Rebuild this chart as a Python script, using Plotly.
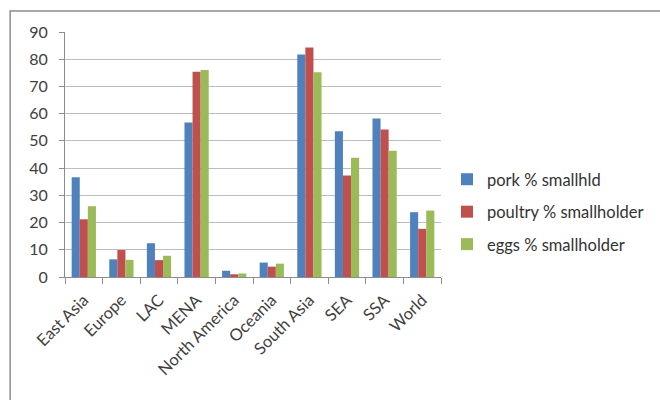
import plotly.graph_objects as go

categories = ["East Asia", "Europe", "LAC", "MENA", "North America", "Oceania",
              "South Asia", "SEA", "SSA", "World"]
pork = [36.6, 6.5, 12.4, 56.8, 2.3, 5.3, 81.7, 53.5, 58.2, 23.8]
poultry = [21.2, 9.9, 6.2, 75.4, 1.0, 3.8, 84.3, 37.3, 54.2, 17.7]
eggs = [26.0, 6.3, 7.8, 76.0, 1.3, 4.9, 75.2, 43.8, 46.4, 24.4]
series_names = ["pork % smallhld", "poultry % smallholder", "eggs % smallholder"]
colors = ["#4F81BD", "#C0504D", "#9BBB59"]

fig = go.Figure()
for i, (name, vals) in enumerate(zip(series_names, [pork, poultry, eggs])):
    fig.add_trace(go.Bar(x=categories, y=vals, name=name, legendgroup=f"g{i}",
                         marker=dict(color=colors[i], line=dict(width=0))))

L, R, T, B = 65, 218, 32, 123
W, H = 660, 400
pw, ph = W - L - R, H - T - B

def px_x(p):
    return (p - L) / pw

def px_y(p):
    return (H - B - p) / ph

fig.update_layout(
    width=W, height=H,
    margin=dict(l=L, r=R, t=T, b=B, pad=0),
    paper_bgcolor="white", plot_bgcolor="white",
    barmode="group", bargap=0.355, bargroupgap=0,
    font=dict(family="Lato, Carlito, Arial, sans-serif", size=16, color="#404040"),
    showlegend=True,
    legend=dict(x=px_x(447), y=px_y(162), xanchor="left", yanchor="top",
                font=dict(size=16.5, color="#333333"), tracegroupgap=8,
                bgcolor="rgba(0,0,0,0)", itemwidth=30),
    xaxis=dict(tickangle=-45, showline=True, linecolor="#8c8c8c", linewidth=1,
               ticks="outside", tickson="boundaries", ticklen=6, tickcolor="#8c8c8c",
               ticklabelstandoff=6,
               showgrid=False, tickfont=dict(size=16.5, color="#404040")),
    yaxis=dict(range=[0, 90], dtick=10, showline=True, linecolor="#8c8c8c", linewidth=1,
               ticks="outside", ticklen=5, tickcolor="#8c8c8c", ticklabelstandoff=8,
               gridcolor="#bdbdbd", gridwidth=1, zeroline=False,
               tickfont=dict(size=16, color="#404040")),
    shapes=[dict(type="rect", xref="paper", yref="paper",
                 x0=px_x(10), x1=px_x(700), y0=px_y(440), y1=px_y(11),
                 line=dict(color="#8c8c8c", width=1.5), fillcolor="rgba(0,0,0,0)",
                 layer="below")],
)

fig.write_html("out.html")
